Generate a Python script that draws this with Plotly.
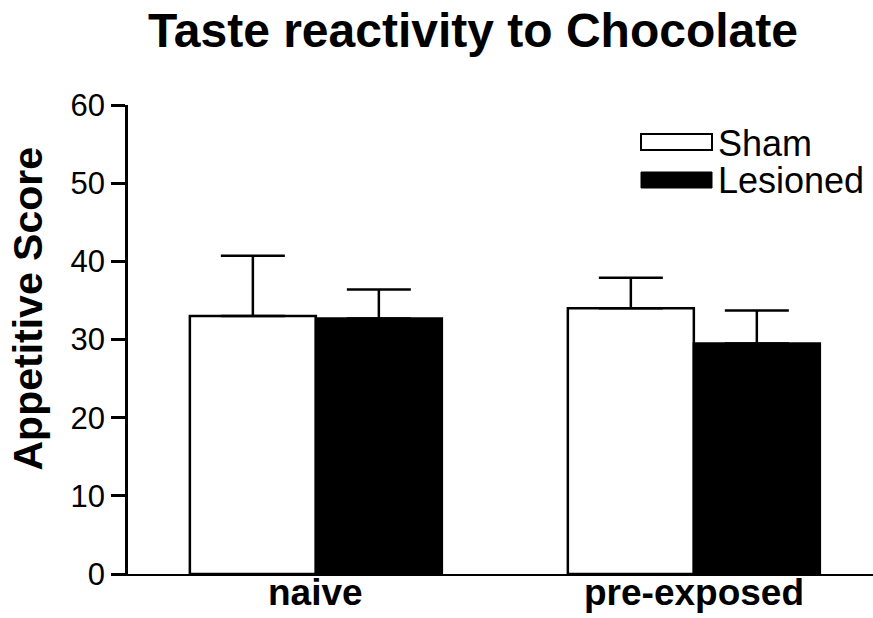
import plotly.graph_objects as go

categories = ["naive", "pre-exposed"]
series_names = ["Sham", "Lesioned"]
sham = [33.0, 34.0]
sham_err = [7.7, 3.9]
lesioned = [32.7, 29.5]
lesioned_err = [3.7, 4.2]
y_ticks = [0, 10, 20, 30, 40, 50, 60]

W, H = 873, 618
ML, MR, MT, MB = 128, 0, 105, 44
PW = W - ML - MR
PH = H - MT - MB


def px(xp):
    return (xp - ML) / PW


def py(yp):
    return (H - MB - yp) / PH


fig = go.Figure()
fig.add_trace(go.Bar(
    x=categories, y=sham, name=series_names[0],
    marker=dict(color="white", line=dict(color="black", width=2.5)),
    error_y=dict(type="data", symmetric=False, array=sham_err,
                 arrayminus=[0] * len(sham), color="black", thickness=2.5, width=32),
))
fig.add_trace(go.Bar(
    x=categories, y=lesioned, name=series_names[1],
    marker=dict(color="black", line=dict(color="black", width=2.5)),
    error_y=dict(type="data", symmetric=False, array=lesioned_err,
                 arrayminus=[0] * len(lesioned), color="black", thickness=2.5, width=32),
))

fig.update_layout(
    width=W, height=H,
    margin=dict(l=ML, r=MR, t=MT, b=MB),
    paper_bgcolor="white", plot_bgcolor="white",
    barmode="group", bargap=1/3, bargroupgap=0,
    showlegend=False,
    title=dict(text="<b>Taste reactivity to Chocolate</b>",
               font=dict(family="Liberation Sans", size=48, color="black"),
               xref="container", x=473 / W, xanchor="center",
               yref="container", y=1 - 30 / H, yanchor="middle"),
    xaxis=dict(range=[-0.497, 1.474], showline=True, linecolor="black", linewidth=2,
               ticks="", showgrid=False, zeroline=False, showticklabels=False,
               automargin=False),
    yaxis=dict(range=[0, 60], showline=True, linecolor="black", linewidth=2.5,
               ticks="outside", ticklen=14, tickwidth=2.5, tickcolor="black",
               tickvals=y_ticks, showgrid=False, zeroline=False, automargin=False,
               tickfont=dict(family="Liberation Sans", size=31, color="black")),
)

# category labels under the bars
for c in categories:
    fig.add_annotation(text="<b>%s</b>" % c, xref="x", yref="paper",
                       x=c, y=py(592), xanchor="center", yanchor="middle",
                       showarrow=False,
                       font=dict(family="Liberation Sans", size=37, color="black"))

# y-axis title
fig.add_annotation(text="<b>Appetitive Score</b>", textangle=-90,
                   xref="paper", yref="paper", x=px(27.5), y=py(309),
                   xanchor="center", yanchor="middle", showarrow=False,
                   font=dict(family="Liberation Sans", size=41, color="black"))

# legend
fig.add_shape(type="rect", xref="paper", yref="paper",
              x0=px(641), x1=px(712), y0=py(150), y1=py(134),
              line=dict(color="black", width=2), fillcolor="white")
fig.add_shape(type="rect", xref="paper", yref="paper",
              x0=px(641), x1=px(712), y0=py(188), y1=py(172),
              line=dict(color="black", width=1), fillcolor="black")
fig.add_annotation(text=series_names[0], xref="paper", yref="paper",
                   x=px(716), y=py(143), xanchor="left", yanchor="middle",
                   showarrow=False, font=dict(family="Liberation Sans", size=36, color="black"))
fig.add_annotation(text=series_names[1], xref="paper", yref="paper",
                   x=px(716), y=py(180), xanchor="left", yanchor="middle",
                   showarrow=False, font=dict(family="Liberation Sans", size=36, color="black"))

fig.write_html("out.html", config={"displayModeBar": False},
               post_script="document.body.style.margin='0';")
